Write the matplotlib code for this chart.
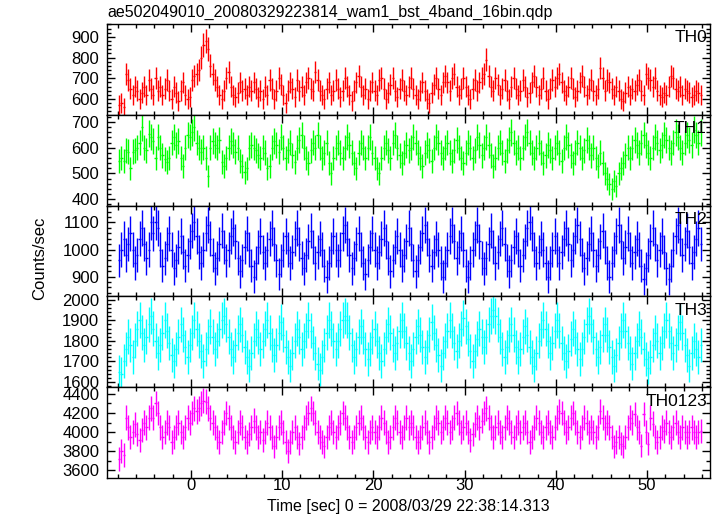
import numpy as np
import matplotlib
matplotlib.use("Agg")
import matplotlib.pyplot as plt
from matplotlib.ticker import MultipleLocator

plt.rcParams['font.family'] = ['Liberation Sans', 'DejaVu Sans']

title = "ae502049010_20080329223814_wam1_bst_4band_16bin.qdp"
xlabel = "Time [sec] 0 = 2008/03/29 22:38:14.313"
ylabel = "Counts/sec"
band_names = ["TH0", "TH1", "TH2", "TH3", "TH0123"]
colors = ["#ff0000", "#00ff00", "#0000ff", "#00ffff", "#ff00ff"]

t_start = -8.0
bin_width = 0.25

th0 = [
    570, 580, 560, 720, 690, 650, 620, 660, 640, 600, 630, 660, 620, 690, 650, 620,
    700, 640, 660, 620, 650, 690, 640, 600, 660, 630, 590, 640, 680, 620, 600, 610,
    690, 710, 720, 740, 800, 860, 880, 840, 760, 720, 690, 660, 620, 600, 640, 700,
    730, 660, 620, 610, 630, 680, 640, 650, 620, 660, 640, 680, 650, 610, 640, 600,
    660, 620, 690, 650, 600, 640, 700, 670, 620, 580, 640, 680, 650, 610, 690, 640,
    660, 620, 680, 700, 650, 640, 730, 690, 640, 620, 600, 650, 680, 620, 640, 690,
    650, 610, 640, 700, 660, 620, 590, 640, 680, 710, 660, 620, 650, 600, 640, 680,
    640, 620, 690, 700, 650, 600, 630, 670, 700, 640, 610, 650, 690, 640, 620, 660,
    700, 650, 620, 600, 640, 680, 640, 600, 580, 630, 670, 700, 650, 620, 680, 710,
    680, 640, 700, 720, 660, 620, 650, 700, 660, 620, 600, 650, 690, 640, 680, 700,
    720, 790, 710, 660, 640, 700, 670, 620, 650, 690, 640, 600, 660, 700, 650, 620,
    640, 690, 660, 610, 630, 680, 710, 660, 620, 650, 700, 640, 600, 650, 690, 660,
    700, 720, 680, 640, 620, 660, 700, 650, 610, 640, 680, 710, 660, 620, 650, 690,
    640, 620, 650, 750, 700, 640, 690, 680, 650, 620, 660, 640, 600, 590, 630, 660,
    620, 650, 640, 670, 690, 640, 620, 720, 700, 690, 660, 700, 640, 620, 610, 630,
    620, 660, 710, 700, 650, 640, 660, 620, 650, 640, 630, 610, 620, 640, 630, 620,
]

th1 = [
    550, 560, 550, 590, 585, 520, 585, 590, 600, 620, 680, 600, 590, 655, 640, 625,
    560, 640, 600, 570, 555, 545, 560, 620, 640, 610, 625, 560, 530, 600, 650, 640,
    660, 680, 620, 600, 585, 600, 560, 490, 600, 625, 610, 600, 630, 545, 530, 560,
    600, 625, 610, 585, 600, 550, 530, 505, 520, 600, 610, 600, 590, 570, 560, 600,
    580, 520, 530, 600, 625, 610, 585, 640, 600, 560, 590, 620, 570, 545, 600, 630,
    650, 600, 560, 540, 590, 620, 600, 650, 600, 560, 580, 620, 540, 500, 560, 600,
    620, 580, 560, 600, 640, 610, 580, 540, 520, 580, 620, 600, 560, 600, 640, 580,
    560, 520, 500, 560, 600, 620, 590, 560, 620, 650, 600, 570, 540, 580, 610, 590,
    600, 640, 620, 580, 560, 530, 580, 610, 590, 550, 600, 640, 620, 580, 560, 600,
    620, 580, 550, 590, 630, 600, 560, 540, 580, 620, 600, 560, 590, 640, 610, 570,
    600, 640, 610, 570, 530, 560, 600, 620, 580, 550, 590, 630, 660, 620, 580, 600,
    560, 600, 640, 660, 620, 580, 560, 600, 620, 580, 540, 570, 610, 590, 560, 600,
    620, 580, 550, 600, 640, 610, 570, 540, 580, 620, 600, 560, 590, 630, 600, 570,
    600, 560, 530, 580, 540, 500, 480, 460, 440, 470, 450, 500, 520, 540, 570, 600,
    560, 600, 630, 610, 580, 620, 650, 610, 580, 560, 600, 640, 620, 590, 610, 650,
    630, 600, 580, 620, 660, 640, 600, 580, 620, 650, 630, 610, 670, 650, 620, 660,
]

th2 = [
    960, 1000, 1040, 980, 1020, 1060, 1000, 950, 980, 1040, 1080, 1020, 970, 1000, 1100, 1060,
    1100, 1080, 1000, 940, 970, 1020, 1060, 1000, 930, 960, 1010, 1050, 990, 940, 980, 1030,
    1070, 1100, 1050, 990, 950, 1000, 1060, 1090, 1040, 980, 930, 970, 1020, 1070, 1010, 960,
    1000, 1050, 1080, 1030, 970, 920, 960, 1010, 1060, 1000, 940, 900, 950, 1010, 1050, 990,
    950, 1000, 1040, 1080, 1020, 960, 910, 960, 1000, 1050, 1000, 950, 990, 1040, 1080, 1020,
    970, 930, 980, 1030, 1070, 1010, 950, 990, 1040, 1000, 940, 900, 950, 1000, 1050, 1000,
    960, 1000, 1060, 1090, 1040, 980, 930, 970, 1020, 1060, 1000, 950, 910, 960, 1010, 1060,
    1000, 950, 990, 1040, 1080, 1030, 970, 920, 960, 1010, 1050, 1000, 940, 980, 1030, 1080,
    1020, 960, 920, 960, 1010, 1060, 1090, 1040, 980, 940, 990, 1040, 1000, 950, 900, 950,
    1000, 1050, 1090, 1030, 970, 1010, 1060, 1000, 940, 900, 950, 1000, 1040, 1090, 1030, 970,
    930, 970, 1020, 1070, 1010, 950, 990, 1040, 1080, 1020, 960, 920, 960, 1010, 1050, 1000,
    940, 980, 1030, 1080, 1100, 1060, 1000, 950, 990, 1040, 1000, 950, 900, 950, 1000, 1050,
    1000, 950, 990, 1040, 1080, 1020, 960, 1000, 1050, 1090, 1040, 980, 930, 970, 1020, 1060,
    1000, 940, 980, 1030, 1070, 1010, 950, 900, 950, 1000, 1050, 1090, 1030, 970, 1010, 1060,
    1000, 950, 990, 1040, 1000, 940, 890, 930, 980, 1030, 1080, 1020, 960, 1000, 1050, 990,
    930, 890, 940, 1000, 1050, 1090, 1040, 980, 1020, 1070, 1010, 950, 990, 1040, 1080, 1020,
]

th3 = [
    1650, 1640, 1700, 1760, 1820, 1780, 1720, 1800, 1860, 1900, 1840, 1780, 1820, 1880, 1920, 1860,
    1800, 1740, 1780, 1840, 1900, 1850, 1790, 1730, 1700, 1760, 1820, 1880, 1830, 1770, 1720, 1780,
    1840, 1900, 1860, 1800, 1750, 1700, 1760, 1820, 1870, 1820, 1760, 1800, 1860, 1900, 1920, 1880,
    1820, 1760, 1720, 1780, 1840, 1880, 1830, 1770, 1720, 1680, 1740, 1800, 1860, 1820, 1760, 1800,
    1860, 1900, 1840, 1780, 1730, 1780, 1840, 1890, 1830, 1770, 1720, 1680, 1740, 1800, 1860, 1820,
    1760, 1800, 1850, 1900, 1850, 1790, 1740, 1690, 1660, 1720, 1780, 1840, 1900, 1860, 1800, 1760,
    1800, 1860, 1900, 1920, 1900, 1840, 1780, 1720, 1760, 1820, 1870, 1820, 1760, 1710, 1760, 1820,
    1860, 1800, 1740, 1700, 1760, 1820, 1880, 1840, 1780, 1740, 1790, 1850, 1900, 1850, 1790, 1740,
    1700, 1760, 1820, 1870, 1830, 1770, 1720, 1770, 1830, 1890, 1840, 1780, 1730, 1680, 1740, 1800,
    1850, 1900, 1850, 1790, 1750, 1800, 1860, 1910, 1870, 1810, 1750, 1700, 1750, 1810, 1860, 1820,
    1770, 1820, 1880, 1920, 1950, 1920, 1880, 1820, 1760, 1720, 1770, 1830, 1880, 1830, 1770, 1720,
    1760, 1820, 1870, 1830, 1770, 1720, 1680, 1740, 1800, 1860, 1900, 1860, 1800, 1740, 1790, 1850,
    1900, 1850, 1790, 1740, 1700, 1750, 1810, 1860, 1820, 1760, 1710, 1760, 1820, 1880, 1920, 1880,
    1820, 1760, 1720, 1770, 1830, 1880, 1830, 1770, 1720, 1680, 1730, 1790, 1850, 1900, 1850, 1790,
    1740, 1690, 1740, 1800, 1860, 1820, 1760, 1710, 1670, 1720, 1780, 1840, 1800, 1740, 1790, 1850,
    1900, 1850, 1790, 1740, 1780, 1840, 1890, 1840, 1780, 1730, 1680, 1740, 1800, 1760, 1720, 1780,
]

th0123 = [
    3720, 3800, 3760, 4150, 4050, 3950, 4000, 4080, 3980, 3920, 4020, 4100, 4050, 4150, 4250, 4150,
    4300, 4200, 4050, 3950, 4000, 4100, 4050, 3900, 3950, 4050, 4100, 4000, 3950, 4050, 4150, 4100,
    4200, 4250, 4220, 4250, 4300, 4330, 4320, 4250, 4150, 4100, 4050, 3950, 3900, 4000, 4100, 4200,
    4150, 4050, 3950, 3900, 4000, 4100, 4050, 3950, 3900, 3980, 4050, 4120, 4050, 3950, 4000, 3920,
    4000, 4100, 4050, 3950, 3850, 3950, 4050, 4100, 4000, 3900, 3800, 3900, 4000, 4050, 3950, 3880,
    3950, 4050, 4150, 4200, 4250, 4200, 4100, 4000, 3950, 3900, 3850, 3950, 4050, 4100, 4000, 3950,
    4050, 4100, 4200, 4150, 4050, 3950, 3900, 3950, 4050, 4100, 4150, 4050, 3950, 3900, 4000, 4050,
    4000, 3950, 4050, 4150, 4100, 4000, 3900, 3950, 4050, 4150, 4100, 4000, 3950, 4050, 4150, 4050,
    4100, 4050, 3950, 3900, 3950, 4050, 4100, 4000, 3900, 3950, 4050, 4150, 4100, 4000, 4050, 4150,
    4100, 4000, 4050, 4150, 4200, 4100, 4000, 4050, 4100, 4000, 3920, 3980, 4080, 4150, 4050, 4120,
    4200, 4250, 4150, 4050, 3950, 4050, 4100, 4000, 3950, 4050, 4150, 4100, 4000, 3950, 4050, 4100,
    4000, 4050, 4100, 4000, 3900, 3950, 4050, 4150, 4100, 4000, 3950, 4050, 4100, 4000, 3950, 4050,
    4150, 4220, 4200, 4100, 4000, 4050, 4150, 4200, 4100, 4000, 3950, 4050, 4150, 4100, 4000, 4050,
    4000, 3950, 4050, 4220, 4150, 4050, 4100, 4050, 3950, 3850, 3900, 3950, 3880, 3850, 3950, 4050,
    4150, 4100, 4190, 4050, 4000, 3860, 4190, 4000, 3880, 4150, 4090, 3950, 3900, 3950, 4050, 4010,
    4100, 4000, 3950, 4050, 4100, 4000, 3950, 4050, 4000, 3950, 4000, 4050, 4000, 3950, 4000, 4010,
]

series = [th0, th1, th2, th3, th0123]
ylims = [(524, 962), (375, 728), (827, 1162), (1575, 2016), (3520, 4470)]
ymajor = [100, 100, 100, 100, 200]
yminor = [20, 20, 20, 20, 100]

fig = plt.figure(figsize=(7.17, 5.16), dpi=100)
left, right, top, bottom = 107 / 717, 710 / 717, 1 - 24 / 516, 1 - 478 / 516
axes = fig.subplots(5, 1, sharex=True,
                    gridspec_kw=dict(left=left, right=right, top=top, bottom=bottom, hspace=0))

for ax, vals, name, col, yl, mj, mn in zip(axes, series, band_names, colors, ylims, ymajor, yminor):
    v = np.array(vals, dtype=float)
    t = t_start + bin_width * (np.arange(len(v)) + 0.5)
    err = np.sqrt(v * bin_width) / bin_width
    ax.errorbar(t, v, xerr=bin_width / 2, yerr=err, fmt='none', ecolor=col,
                elinewidth=1.0, capsize=0)
    ax.set_ylim(*yl)
    ax.set_xlim(-9.2, 56.9)
    ax.yaxis.set_major_locator(MultipleLocator(mj))
    ax.yaxis.set_minor_locator(MultipleLocator(mn))
    ax.xaxis.set_major_locator(MultipleLocator(10))
    ax.xaxis.set_minor_locator(MultipleLocator(2))
    ax.tick_params(which='both', direction='in', top=True, right=True, labelsize=12,
                   width=1, color='black')
    ax.tick_params(axis='y', pad=5.5)
    ax.tick_params(which='major', length=6)
    ax.tick_params(which='minor', length=3)
    for s in ax.spines.values():
        s.set_linewidth(1.0)
    ax.text(0.995, 0.93, name, transform=ax.transAxes, ha='right', va='top', fontsize=12.5)

axes[-1].tick_params(axis='x', labelsize=12, pad=0)
axes[-1].set_xlabel(xlabel, fontsize=11.5, labelpad=4)
fig.text(left, 1 - 12 / 516, title, ha='left', va='center', fontsize=11.5)
fig.text(40 / 717, 0.5 + 0.0, ylabel, rotation=90, ha='center', va='center', fontsize=12)

fig.savefig("out.png", dpi=100)
